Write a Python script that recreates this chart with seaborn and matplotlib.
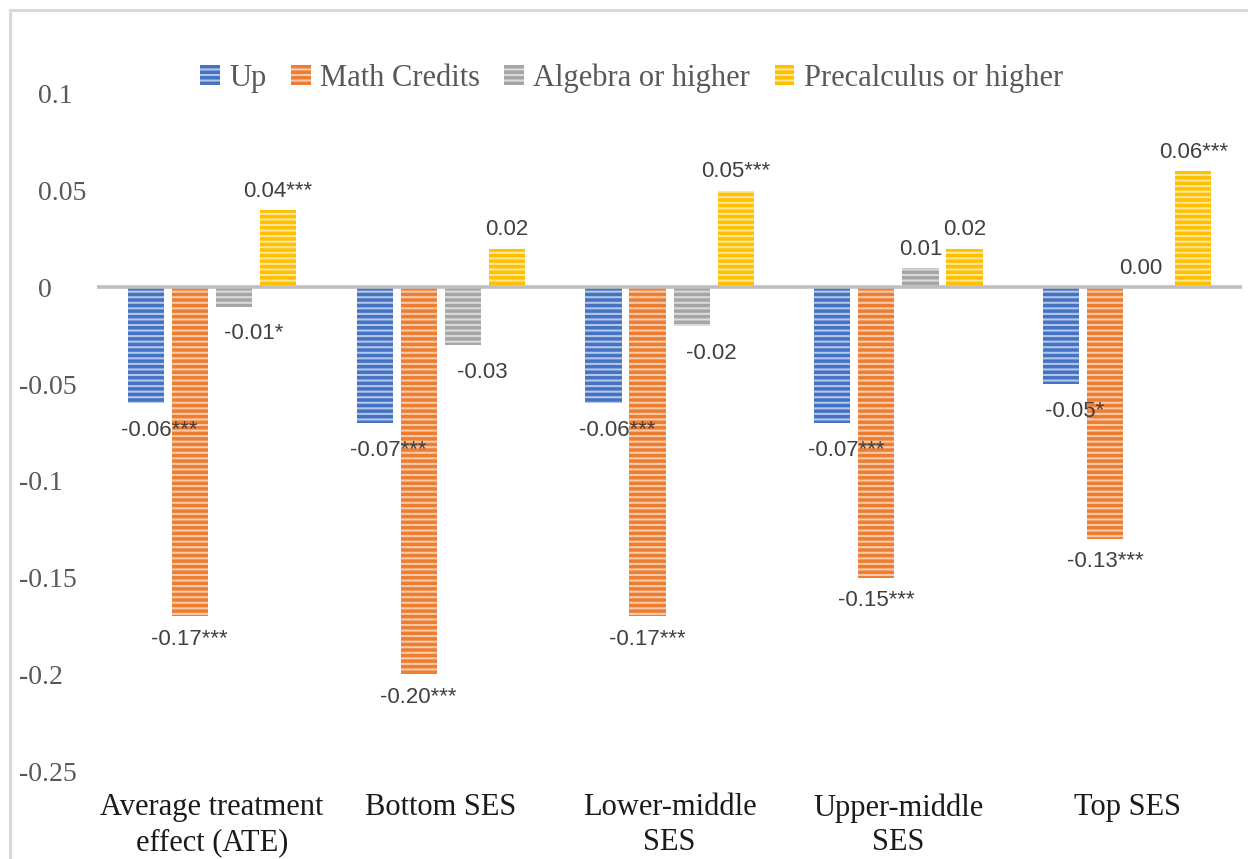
import numpy as np
import pandas as pd
import seaborn as sns
import matplotlib.pyplot as plt
from matplotlib.patches import Rectangle
from matplotlib.colors import to_rgb
from matplotlib.transforms import ScaledTranslation

# categories and series
groups = ['Average treatment\neffect (ATE)', 'Bottom SES', 'Lower-middle\nSES', 'Upper-middle\nSES', 'Top SES']
series = ['Up', 'Math Credits', 'Algebra or higher', 'Precalculus or higher']

up_vals = [-0.06, -0.07, -0.06, -0.07, -0.05]
math_vals = [-0.17, -0.20, -0.17, -0.15, -0.13]
alg_vals = [-0.01, -0.03, -0.02, 0.01, 0.00]
pre_vals = [0.04, 0.02, 0.05, 0.02, 0.06]

up_lbl = ['-0.06***', '-0.07***', '-0.06***', '-0.07***', '-0.05*']
math_lbl = ['-0.17***', '-0.20***', '-0.17***', '-0.15***', '-0.13***']
alg_lbl = ['-0.01*', '-0.03', '-0.02', '0.01', '0.00']
pre_lbl = ['0.04***', '0.02', '0.05***', '0.02', '0.06***']

colors = ['#4472C4', '#ED7D31', '#A5A5A5', '#FFC000']

vals = [up_vals, math_vals, alg_vals, pre_vals]
lbls = [up_lbl, math_lbl, alg_lbl, pre_lbl]

rows = []
for s, v in zip(series, vals):
    for g, x in zip(groups, v):
        rows.append({'group': g, 'series': s, 'value': x})
df = pd.DataFrame(rows)

sns.set_style('white')
plt.rcParams['hatch.linewidth'] = 1.5

fig = plt.figure(figsize=(12.48, 8.59), dpi=100)
ax = fig.add_axes([0.078, 0.1024, 0.917, 0.7882])

sns.barplot(data=df, x='group', y='value', hue='series', hue_order=series,
            palette=colors, width=0.77, gap=0.18, errorbar=None, ax=ax)

def lighten(c, f):
    r, g, b = to_rgb(c)
    return (r + (1 - r) * f, g + (1 - g) * f, b + (1 - b) * f)

# horizontal stripes like the excel pattern fill
for cont, col in zip(ax.containers, colors):
    for p in cont.patches:
        p.set_facecolor(col)
        p.set_edgecolor(lighten(col, 0.6))
        p.set_hatch('---')
        p.set_linewidth(0)

# data labels
xoff = [10, 0, 14, 0]
yoff = [-12, -9, -12, 6]
for cont, lab, dx, dy in zip(ax.containers, lbls, xoff, yoff):
    for p, t in zip(cont.patches, lab):
        h = p.get_height()
        xc = p.get_x() + p.get_width() / 2
        if t.startswith('-'):
            ax.annotate(t, (xc, h), xytext=(dx, dy), textcoords='offset points',
                        ha='center', va='top', fontsize=16, color='#404040',
                        family='Liberation Sans')
        else:
            ax.annotate(t, (xc, h), xytext=(-6 if h == 0 else 0, 6), textcoords='offset points',
                        ha='center', va='bottom', fontsize=16, color='#404040',
                        family='Liberation Sans')

ax.axhline(0, color='#bfbfbf', lw=2.6, zorder=3)

ax.set_ylim(-0.25, 0.1)
ticks = np.round(np.arange(-0.25, 0.1001, 0.05), 2)
ax.set_yticks(ticks)
ax.set_yticklabels([f'{t + 0:g}' for t in ticks])
ax.set_xlim(-0.5, len(groups) - 0.5)
ax.set_xlabel('')
ax.set_ylabel('')
for sp in ax.spines.values():
    sp.set_visible(False)
ax.tick_params(axis='y', length=0, pad=43, labelsize=20, labelcolor='#595959')
ax.tick_params(axis='x', length=0, pad=16, labelsize=22, labelcolor='#1a1a1a')
for t in ax.get_xticklabels() + ax.get_yticklabels():
    t.set_family('Liberation Serif')
for t in ax.get_xticklabels():
    t.set_linespacing(1.25)
# excel style: digits line up on the left, minus sign hangs out
shift = ScaledTranslation(-0.19, 0, fig.dpi_scale_trans)
for t in ax.get_yticklabels():
    t.set_horizontalalignment('left')
    if t.get_text().startswith('-'):
        t.set_transform(t.get_transform() + shift)

ax.get_legend().remove()
leg = fig.legend(handles=list(ax.containers), labels=series, loc='center',
                 bbox_to_anchor=(0.506, 0.909), ncol=4, frameon=False,
                 handlelength=0.65, handleheight=0.65, handletextpad=0.3,
                 columnspacing=0.8, prop={'family': 'Liberation Serif', 'size': 22})
for t in leg.get_texts():
    t.set_color('#595959')

# chart border (cropped at right and bottom)
fig.patches.append(Rectangle((0.008, -0.1), 1.2, 1.088, transform=fig.transFigure,
                             fill=False, edgecolor='#d9d9d9', lw=2.2))

fig.savefig('out.png', dpi=100)
